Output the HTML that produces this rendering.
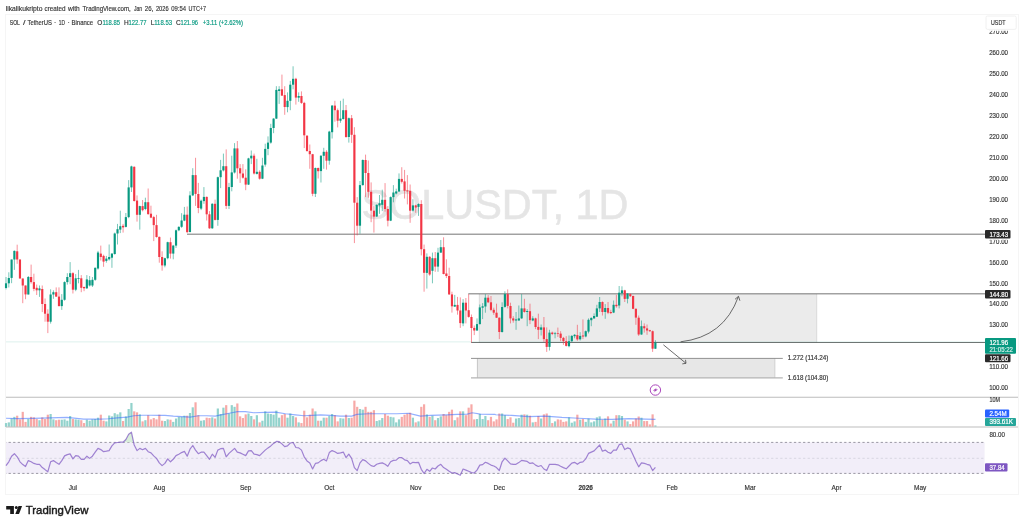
<!DOCTYPE html>
<html><head><meta charset="utf-8"><title>SOLUSDT chart</title>
<style>html,body{margin:0;padding:0;background:#fff;overflow:hidden}svg{display:block;will-change:transform}</style></head>
<body>
<svg width="1024" height="526" viewBox="0 0 1024 526" font-family='"Liberation Sans", "DejaVu Sans", sans-serif'>
<rect width="1024" height="526" fill="#fff"/>
<rect x="5.5" y="14.5" width="1013" height="480" fill="#fff" stroke="#f5f5f5" stroke-width="1"/>
<text x="5.7" y="10.5" font-size="7" fill="#363636" text-anchor="start" font-weight="normal" textLength="36.8" lengthAdjust="spacingAndGlyphs" stroke="#363636" stroke-width="0.16">likalikukripto</text>
<text x="44.5" y="10.5" font-size="7" fill="#363636" text-anchor="start" font-weight="normal" textLength="21.0" lengthAdjust="spacingAndGlyphs" stroke="#363636" stroke-width="0.16">created</text>
<text x="68" y="10.5" font-size="7" fill="#363636" text-anchor="start" font-weight="normal" textLength="11.7" lengthAdjust="spacingAndGlyphs" stroke="#363636" stroke-width="0.16">with</text>
<text x="82.6" y="10.5" font-size="7" fill="#363636" text-anchor="start" font-weight="normal" textLength="48.2" lengthAdjust="spacingAndGlyphs" stroke="#363636" stroke-width="0.16">TradingView.com,</text>
<text x="134" y="10.5" font-size="7" fill="#363636" text-anchor="start" font-weight="normal" textLength="8.2" lengthAdjust="spacingAndGlyphs" stroke="#363636" stroke-width="0.16">Jan</text>
<text x="144.8" y="10.5" font-size="7" fill="#363636" text-anchor="start" font-weight="normal" textLength="8.5" lengthAdjust="spacingAndGlyphs" stroke="#363636" stroke-width="0.16">26,</text>
<text x="155.9" y="10.5" font-size="7" fill="#363636" text-anchor="start" font-weight="normal" textLength="12.7" lengthAdjust="spacingAndGlyphs" stroke="#363636" stroke-width="0.16">2026</text>
<text x="171.2" y="10.5" font-size="7" fill="#363636" text-anchor="start" font-weight="normal" textLength="14.8" lengthAdjust="spacingAndGlyphs" stroke="#363636" stroke-width="0.16">09:54</text>
<text x="188.6" y="10.5" font-size="7" fill="#363636" text-anchor="start" font-weight="normal" textLength="17.5" lengthAdjust="spacingAndGlyphs" stroke="#363636" stroke-width="0.16">UTC+7</text>
<text x="361.4" y="219.2" font-size="42.6" fill="#e5e5e5" text-anchor="start" font-weight="normal" textLength="267" lengthAdjust="spacingAndGlyphs" stroke="#e5e5e5" stroke-width="0.55">SOLUSDT, 1D</text>
<rect x="479.3" y="294.2" width="337.4" height="48" fill="#ebebeb"/>
<line x1="816.7" y1="294.2" x2="816.7" y2="342.2" stroke="#c9c9c9" stroke-width="0.6"/>
<line x1="479.3" y1="294.2" x2="479.3" y2="342.2" stroke="#c9c9c9" stroke-width="0.6"/>
<rect x="477.3" y="358.4" width="297.6" height="19.5" fill="#e7e7e7"/>
<line x1="477.4" y1="358.4" x2="477.4" y2="377.9" stroke="#b4b4b4" stroke-width="0.7"/>
<line x1="774.9" y1="358.4" x2="774.9" y2="377.9" stroke="#c4c4c4" stroke-width="0.7"/>
<line x1="187" y1="234.18" x2="985" y2="234.18" stroke="#161616" stroke-width="0.6"/>
<line x1="468.3" y1="293.84" x2="985" y2="293.84" stroke="#161616" stroke-width="0.6"/>
<line x1="471.2" y1="342.5" x2="985" y2="342.5" stroke="#161616" stroke-width="0.6"/>
<line x1="6" y1="341.9" x2="985" y2="341.9" stroke="#089981" stroke-width="0.5" stroke-dasharray="0.5 0.5" opacity="0.55"/>
<line x1="471" y1="358.4" x2="782.8" y2="358.4" stroke="#868686" stroke-width="0.9"/>
<line x1="471" y1="377.95" x2="782.8" y2="377.95" stroke="#b4b4b4" stroke-width="1.3"/>
<text x="787.8" y="360.3" font-size="6.5" fill="#363636" text-anchor="start" font-weight="normal" textLength="40.5" lengthAdjust="spacingAndGlyphs" stroke="#363636" stroke-width="0.16">1.272 (114.24)</text>
<text x="787.8" y="379.8" font-size="6.5" fill="#363636" text-anchor="start" font-weight="normal" textLength="40.5" lengthAdjust="spacingAndGlyphs" stroke="#363636" stroke-width="0.16">1.618 (104.80)</text>
<path d="M680.6 341.8 Q 723.9 337 738.4 296.6" fill="none" stroke="#484848" stroke-width="0.8"/>
<path d="M735.0 299.3 L738.5 296.3 L739.9 300.7" fill="none" stroke="#484848" stroke-width="0.8"/>
<path d="M663.4 344.8 L686 363.3" fill="none" stroke="#484848" stroke-width="0.8"/>
<path d="M682.3 363.9 L686 363.3 L685.5 359.8" fill="none" stroke="#484848" stroke-width="0.8"/>
<line x1="6.03" y1="277.0" x2="6.03" y2="289.4" stroke="#089981" stroke-width="0.55"/>
<rect x="4.95" y="283.3" width="2.16" height="4.7" fill="#089981"/>
<line x1="8.82" y1="272.3" x2="8.82" y2="287.5" stroke="#089981" stroke-width="0.55"/>
<rect x="7.74" y="278.0" width="2.16" height="5.3" fill="#089981"/>
<line x1="11.60" y1="259.5" x2="11.60" y2="283.2" stroke="#089981" stroke-width="0.55"/>
<rect x="10.52" y="259.5" width="2.16" height="18.4" fill="#089981"/>
<line x1="14.39" y1="250.4" x2="14.39" y2="269.9" stroke="#089981" stroke-width="0.55"/>
<rect x="13.31" y="250.9" width="2.16" height="8.6" fill="#089981"/>
<line x1="17.18" y1="244.7" x2="17.18" y2="263.8" stroke="#f23645" stroke-width="0.55"/>
<rect x="16.10" y="251.3" width="2.16" height="8.2" fill="#f23645"/>
<line x1="19.96" y1="259.5" x2="19.96" y2="278.5" stroke="#f23645" stroke-width="0.55"/>
<rect x="18.88" y="259.5" width="2.16" height="19.0" fill="#f23645"/>
<line x1="22.75" y1="278.5" x2="22.75" y2="303.2" stroke="#f23645" stroke-width="0.55"/>
<rect x="21.67" y="278.5" width="2.16" height="7.0" fill="#f23645"/>
<line x1="25.54" y1="285.5" x2="25.54" y2="299.2" stroke="#f23645" stroke-width="0.55"/>
<rect x="24.46" y="285.5" width="2.16" height="8.9" fill="#f23645"/>
<line x1="28.33" y1="276.0" x2="28.33" y2="294.5" stroke="#089981" stroke-width="0.55"/>
<rect x="27.25" y="277.0" width="2.16" height="17.5" fill="#089981"/>
<line x1="31.11" y1="264.6" x2="31.11" y2="283.6" stroke="#f23645" stroke-width="0.55"/>
<rect x="30.03" y="277.0" width="2.16" height="5.1" fill="#f23645"/>
<line x1="33.90" y1="273.7" x2="33.90" y2="291.2" stroke="#f23645" stroke-width="0.55"/>
<rect x="32.82" y="282.1" width="2.16" height="6.8" fill="#f23645"/>
<line x1="36.69" y1="284.6" x2="36.69" y2="295.0" stroke="#f23645" stroke-width="0.55"/>
<rect x="35.61" y="287.8" width="2.16" height="2.5" fill="#f23645"/>
<line x1="39.47" y1="285.5" x2="39.47" y2="296.9" stroke="#089981" stroke-width="0.55"/>
<rect x="38.39" y="288.4" width="2.16" height="1.9" fill="#089981"/>
<line x1="42.26" y1="285.5" x2="42.26" y2="312.1" stroke="#f23645" stroke-width="0.55"/>
<rect x="41.18" y="289.0" width="2.16" height="15.0" fill="#f23645"/>
<line x1="45.05" y1="298.5" x2="45.05" y2="321.7" stroke="#f23645" stroke-width="0.55"/>
<rect x="43.97" y="304.0" width="2.16" height="9.7" fill="#f23645"/>
<line x1="47.83" y1="309.3" x2="47.83" y2="333.1" stroke="#f23645" stroke-width="0.55"/>
<rect x="46.75" y="313.7" width="2.16" height="8.0" fill="#f23645"/>
<line x1="50.62" y1="289.3" x2="50.62" y2="323.6" stroke="#089981" stroke-width="0.55"/>
<rect x="49.54" y="294.5" width="2.16" height="27.2" fill="#089981"/>
<line x1="53.41" y1="290.3" x2="53.41" y2="298.8" stroke="#089981" stroke-width="0.55"/>
<rect x="52.33" y="292.2" width="2.16" height="2.3" fill="#089981"/>
<line x1="56.20" y1="287.4" x2="56.20" y2="296.9" stroke="#f23645" stroke-width="0.55"/>
<rect x="55.12" y="292.2" width="2.16" height="4.4" fill="#f23645"/>
<line x1="58.98" y1="287.4" x2="58.98" y2="306.4" stroke="#f23645" stroke-width="0.55"/>
<rect x="57.90" y="296.6" width="2.16" height="9.5" fill="#f23645"/>
<line x1="61.77" y1="294.1" x2="61.77" y2="309.9" stroke="#089981" stroke-width="0.55"/>
<rect x="60.69" y="299.8" width="2.16" height="6.3" fill="#089981"/>
<line x1="64.56" y1="281.3" x2="64.56" y2="300.7" stroke="#089981" stroke-width="0.55"/>
<rect x="63.48" y="282.1" width="2.16" height="17.7" fill="#089981"/>
<line x1="67.34" y1="273.2" x2="67.34" y2="284.6" stroke="#089981" stroke-width="0.55"/>
<rect x="66.26" y="277.0" width="2.16" height="5.1" fill="#089981"/>
<line x1="70.13" y1="262.1" x2="70.13" y2="284.2" stroke="#089981" stroke-width="0.55"/>
<rect x="69.05" y="273.2" width="2.16" height="3.8" fill="#089981"/>
<line x1="72.92" y1="272.2" x2="72.92" y2="293.5" stroke="#f23645" stroke-width="0.55"/>
<rect x="71.84" y="273.2" width="2.16" height="16.5" fill="#f23645"/>
<line x1="75.70" y1="274.1" x2="75.70" y2="291.2" stroke="#089981" stroke-width="0.55"/>
<rect x="74.62" y="278.3" width="2.16" height="11.4" fill="#089981"/>
<line x1="78.49" y1="269.9" x2="78.49" y2="283.3" stroke="#089981" stroke-width="0.55"/>
<rect x="77.41" y="278.0" width="2.16" height="0.8" fill="#089981"/>
<line x1="81.28" y1="275.1" x2="81.28" y2="292.2" stroke="#f23645" stroke-width="0.55"/>
<rect x="80.20" y="278.3" width="2.16" height="9.5" fill="#f23645"/>
<line x1="84.06" y1="286.5" x2="84.06" y2="291.2" stroke="#f23645" stroke-width="0.55"/>
<rect x="82.98" y="287.0" width="2.16" height="1.3" fill="#f23645"/>
<line x1="86.85" y1="275.1" x2="86.85" y2="289.0" stroke="#089981" stroke-width="0.55"/>
<rect x="85.77" y="279.4" width="2.16" height="8.9" fill="#089981"/>
<line x1="89.64" y1="276.0" x2="89.64" y2="286.5" stroke="#089981" stroke-width="0.55"/>
<rect x="88.56" y="280.2" width="2.16" height="5.3" fill="#089981"/>
<line x1="92.43" y1="277.0" x2="92.43" y2="287.0" stroke="#089981" stroke-width="0.55"/>
<rect x="91.35" y="279.8" width="2.16" height="5.7" fill="#089981"/>
<line x1="95.21" y1="267.5" x2="95.21" y2="280.8" stroke="#089981" stroke-width="0.55"/>
<rect x="94.13" y="267.8" width="2.16" height="12.0" fill="#089981"/>
<line x1="98.00" y1="250.9" x2="98.00" y2="269.6" stroke="#089981" stroke-width="0.55"/>
<rect x="96.92" y="252.5" width="2.16" height="16.0" fill="#089981"/>
<line x1="100.79" y1="245.6" x2="100.79" y2="260.5" stroke="#f23645" stroke-width="0.55"/>
<rect x="99.71" y="253.6" width="2.16" height="3.4" fill="#f23645"/>
<line x1="103.57" y1="254.7" x2="103.57" y2="266.8" stroke="#f23645" stroke-width="0.55"/>
<rect x="102.49" y="255.9" width="2.16" height="5.7" fill="#f23645"/>
<line x1="106.36" y1="255.9" x2="106.36" y2="262.7" stroke="#089981" stroke-width="0.55"/>
<rect x="105.28" y="258.6" width="2.16" height="2.3" fill="#089981"/>
<line x1="109.15" y1="244.5" x2="109.15" y2="260.5" stroke="#089981" stroke-width="0.55"/>
<rect x="108.07" y="257.0" width="2.16" height="2.3" fill="#089981"/>
<line x1="111.93" y1="253.2" x2="111.93" y2="267.8" stroke="#089981" stroke-width="0.55"/>
<rect x="110.85" y="253.6" width="2.16" height="4.1" fill="#089981"/>
<line x1="114.72" y1="232.6" x2="114.72" y2="254.7" stroke="#089981" stroke-width="0.55"/>
<rect x="113.64" y="233.5" width="2.16" height="20.5" fill="#089981"/>
<line x1="117.51" y1="223.9" x2="117.51" y2="244.5" stroke="#089981" stroke-width="0.55"/>
<rect x="116.43" y="229.2" width="2.16" height="4.3" fill="#089981"/>
<line x1="120.30" y1="210.7" x2="120.30" y2="233.1" stroke="#089981" stroke-width="0.55"/>
<rect x="119.22" y="226.2" width="2.16" height="3.4" fill="#089981"/>
<line x1="123.08" y1="223.9" x2="123.08" y2="232.6" stroke="#f23645" stroke-width="0.55"/>
<rect x="122.00" y="225.8" width="2.16" height="1.6" fill="#f23645"/>
<line x1="125.87" y1="213.0" x2="125.87" y2="227.4" stroke="#089981" stroke-width="0.55"/>
<rect x="124.79" y="217.1" width="2.16" height="9.8" fill="#089981"/>
<line x1="128.66" y1="180.1" x2="128.66" y2="218.2" stroke="#089981" stroke-width="0.55"/>
<rect x="127.58" y="187.4" width="2.16" height="29.7" fill="#089981"/>
<line x1="131.44" y1="165.7" x2="131.44" y2="192.0" stroke="#089981" stroke-width="0.55"/>
<rect x="130.36" y="166.4" width="2.16" height="21.0" fill="#089981"/>
<line x1="134.23" y1="166.4" x2="134.23" y2="201.6" stroke="#f23645" stroke-width="0.55"/>
<rect x="133.15" y="166.8" width="2.16" height="34.2" fill="#f23645"/>
<line x1="137.02" y1="195.4" x2="137.02" y2="221.6" stroke="#f23645" stroke-width="0.55"/>
<rect x="135.94" y="200.6" width="2.16" height="14.2" fill="#f23645"/>
<line x1="139.80" y1="205.7" x2="139.80" y2="229.6" stroke="#089981" stroke-width="0.55"/>
<rect x="138.72" y="206.1" width="2.16" height="8.7" fill="#089981"/>
<line x1="142.59" y1="200.0" x2="142.59" y2="211.4" stroke="#f23645" stroke-width="0.55"/>
<rect x="141.51" y="206.1" width="2.16" height="4.1" fill="#f23645"/>
<line x1="145.38" y1="197.7" x2="145.38" y2="210.2" stroke="#089981" stroke-width="0.55"/>
<rect x="144.30" y="202.2" width="2.16" height="6.8" fill="#089981"/>
<line x1="148.17" y1="188.5" x2="148.17" y2="214.8" stroke="#f23645" stroke-width="0.55"/>
<rect x="147.09" y="202.2" width="2.16" height="11.9" fill="#f23645"/>
<line x1="150.95" y1="205.7" x2="150.95" y2="218.2" stroke="#f23645" stroke-width="0.55"/>
<rect x="149.87" y="213.7" width="2.16" height="3.9" fill="#f23645"/>
<line x1="153.74" y1="215.9" x2="153.74" y2="241.1" stroke="#f23645" stroke-width="0.55"/>
<rect x="152.66" y="217.1" width="2.16" height="8.0" fill="#f23645"/>
<line x1="156.53" y1="214.8" x2="156.53" y2="237.6" stroke="#f23645" stroke-width="0.55"/>
<rect x="155.45" y="225.1" width="2.16" height="11.9" fill="#f23645"/>
<line x1="159.31" y1="236.5" x2="159.31" y2="262.7" stroke="#f23645" stroke-width="0.55"/>
<rect x="158.23" y="236.9" width="2.16" height="20.1" fill="#f23645"/>
<line x1="162.10" y1="251.3" x2="162.10" y2="270.7" stroke="#f23645" stroke-width="0.55"/>
<rect x="161.02" y="257.0" width="2.16" height="8.4" fill="#f23645"/>
<line x1="164.89" y1="257.7" x2="164.89" y2="267.3" stroke="#089981" stroke-width="0.55"/>
<rect x="163.81" y="258.2" width="2.16" height="7.3" fill="#089981"/>
<line x1="167.68" y1="241.7" x2="167.68" y2="259.3" stroke="#089981" stroke-width="0.55"/>
<rect x="166.59" y="242.2" width="2.16" height="16.0" fill="#089981"/>
<line x1="170.46" y1="237.6" x2="170.46" y2="258.6" stroke="#f23645" stroke-width="0.55"/>
<rect x="169.38" y="242.2" width="2.16" height="11.4" fill="#f23645"/>
<line x1="173.25" y1="244.9" x2="173.25" y2="259.3" stroke="#089981" stroke-width="0.55"/>
<rect x="172.17" y="245.6" width="2.16" height="8.0" fill="#089981"/>
<line x1="176.04" y1="229.6" x2="176.04" y2="247.9" stroke="#089981" stroke-width="0.55"/>
<rect x="174.96" y="230.3" width="2.16" height="15.3" fill="#089981"/>
<line x1="178.82" y1="226.2" x2="178.82" y2="231.2" stroke="#089981" stroke-width="0.55"/>
<rect x="177.74" y="226.9" width="2.16" height="3.4" fill="#089981"/>
<line x1="181.61" y1="213.2" x2="181.61" y2="227.9" stroke="#089981" stroke-width="0.55"/>
<rect x="180.53" y="220.5" width="2.16" height="6.3" fill="#089981"/>
<line x1="184.40" y1="206.9" x2="184.40" y2="221.2" stroke="#089981" stroke-width="0.55"/>
<rect x="183.32" y="214.7" width="2.16" height="5.9" fill="#089981"/>
<line x1="187.18" y1="206.5" x2="187.18" y2="233.1" stroke="#f23645" stroke-width="0.55"/>
<rect x="186.10" y="214.7" width="2.16" height="17.4" fill="#f23645"/>
<line x1="189.97" y1="191.3" x2="189.97" y2="232.5" stroke="#089981" stroke-width="0.55"/>
<rect x="188.89" y="195.4" width="2.16" height="36.6" fill="#089981"/>
<line x1="192.76" y1="168.2" x2="192.76" y2="196.1" stroke="#089981" stroke-width="0.55"/>
<rect x="191.68" y="175.1" width="2.16" height="20.3" fill="#089981"/>
<line x1="195.55" y1="157.8" x2="195.55" y2="205.9" stroke="#f23645" stroke-width="0.55"/>
<rect x="194.47" y="175.1" width="2.16" height="18.8" fill="#f23645"/>
<line x1="198.33" y1="182.9" x2="198.33" y2="213.2" stroke="#f23645" stroke-width="0.55"/>
<rect x="197.25" y="194.0" width="2.16" height="14.0" fill="#f23645"/>
<line x1="201.12" y1="199.6" x2="201.12" y2="210.1" stroke="#089981" stroke-width="0.55"/>
<rect x="200.04" y="200.7" width="2.16" height="7.9" fill="#089981"/>
<line x1="203.91" y1="187.1" x2="203.91" y2="203.8" stroke="#089981" stroke-width="0.55"/>
<rect x="202.83" y="196.9" width="2.16" height="4.2" fill="#089981"/>
<line x1="206.69" y1="196.5" x2="206.69" y2="220.5" stroke="#f23645" stroke-width="0.55"/>
<rect x="205.61" y="196.9" width="2.16" height="17.4" fill="#f23645"/>
<line x1="209.48" y1="211.1" x2="209.48" y2="228.9" stroke="#f23645" stroke-width="0.55"/>
<rect x="208.40" y="214.3" width="2.16" height="14.0" fill="#f23645"/>
<line x1="212.27" y1="203.2" x2="212.27" y2="228.9" stroke="#089981" stroke-width="0.55"/>
<rect x="211.19" y="203.8" width="2.16" height="24.5" fill="#089981"/>
<line x1="215.05" y1="199.6" x2="215.05" y2="220.5" stroke="#f23645" stroke-width="0.55"/>
<rect x="213.97" y="203.8" width="2.16" height="16.1" fill="#f23645"/>
<line x1="217.84" y1="176.6" x2="217.84" y2="225.8" stroke="#089981" stroke-width="0.55"/>
<rect x="216.76" y="177.2" width="2.16" height="42.7" fill="#089981"/>
<line x1="220.63" y1="159.9" x2="220.63" y2="188.1" stroke="#089981" stroke-width="0.55"/>
<rect x="219.55" y="170.3" width="2.16" height="6.9" fill="#089981"/>
<line x1="223.41" y1="153.6" x2="223.41" y2="171.4" stroke="#089981" stroke-width="0.55"/>
<rect x="222.33" y="166.2" width="2.16" height="4.2" fill="#089981"/>
<line x1="226.20" y1="149.4" x2="226.20" y2="209.0" stroke="#f23645" stroke-width="0.55"/>
<rect x="225.12" y="166.2" width="2.16" height="39.7" fill="#f23645"/>
<line x1="228.99" y1="182.9" x2="228.99" y2="209.0" stroke="#089981" stroke-width="0.55"/>
<rect x="227.91" y="187.1" width="2.16" height="18.8" fill="#089981"/>
<line x1="231.78" y1="155.7" x2="231.78" y2="191.3" stroke="#089981" stroke-width="0.55"/>
<rect x="230.70" y="172.4" width="2.16" height="14.6" fill="#089981"/>
<line x1="234.56" y1="143.1" x2="234.56" y2="173.5" stroke="#089981" stroke-width="0.55"/>
<rect x="233.48" y="148.4" width="2.16" height="24.1" fill="#089981"/>
<line x1="237.35" y1="141.0" x2="237.35" y2="178.7" stroke="#f23645" stroke-width="0.55"/>
<rect x="236.27" y="148.4" width="2.16" height="19.9" fill="#f23645"/>
<line x1="240.14" y1="164.1" x2="240.14" y2="182.9" stroke="#f23645" stroke-width="0.55"/>
<rect x="239.06" y="168.2" width="2.16" height="5.2" fill="#f23645"/>
<line x1="242.92" y1="164.1" x2="242.92" y2="178.7" stroke="#f23645" stroke-width="0.55"/>
<rect x="241.84" y="173.5" width="2.16" height="4.2" fill="#f23645"/>
<line x1="245.71" y1="169.3" x2="245.71" y2="190.2" stroke="#f23645" stroke-width="0.55"/>
<rect x="244.63" y="177.7" width="2.16" height="6.9" fill="#f23645"/>
<line x1="248.50" y1="157.8" x2="248.50" y2="185.0" stroke="#089981" stroke-width="0.55"/>
<rect x="247.42" y="158.4" width="2.16" height="26.2" fill="#089981"/>
<line x1="251.28" y1="150.5" x2="251.28" y2="164.1" stroke="#089981" stroke-width="0.55"/>
<rect x="250.20" y="155.7" width="2.16" height="2.7" fill="#089981"/>
<line x1="254.07" y1="153.6" x2="254.07" y2="174.5" stroke="#f23645" stroke-width="0.55"/>
<rect x="252.99" y="155.7" width="2.16" height="17.8" fill="#f23645"/>
<line x1="256.86" y1="158.8" x2="256.86" y2="174.5" stroke="#089981" stroke-width="0.55"/>
<rect x="255.78" y="171.8" width="2.16" height="2.1" fill="#089981"/>
<line x1="259.65" y1="170.3" x2="259.65" y2="179.7" stroke="#f23645" stroke-width="0.55"/>
<rect x="258.57" y="171.8" width="2.16" height="6.9" fill="#f23645"/>
<line x1="262.43" y1="157.8" x2="262.43" y2="179.1" stroke="#089981" stroke-width="0.55"/>
<rect x="261.35" y="165.5" width="2.16" height="13.2" fill="#089981"/>
<line x1="265.22" y1="143.7" x2="265.22" y2="166.7" stroke="#089981" stroke-width="0.55"/>
<rect x="264.14" y="148.9" width="2.16" height="15.7" fill="#089981"/>
<line x1="268.01" y1="136.4" x2="268.01" y2="155.2" stroke="#089981" stroke-width="0.55"/>
<rect x="266.93" y="142.6" width="2.16" height="6.3" fill="#089981"/>
<line x1="270.79" y1="123.8" x2="270.79" y2="143.7" stroke="#089981" stroke-width="0.55"/>
<rect x="269.71" y="128.0" width="2.16" height="14.6" fill="#089981"/>
<line x1="273.58" y1="118.2" x2="273.58" y2="133.2" stroke="#089981" stroke-width="0.55"/>
<rect x="272.50" y="118.6" width="2.16" height="9.4" fill="#089981"/>
<line x1="276.37" y1="86.2" x2="276.37" y2="119.0" stroke="#089981" stroke-width="0.55"/>
<rect x="275.29" y="89.9" width="2.16" height="28.7" fill="#089981"/>
<line x1="279.15" y1="86.2" x2="279.15" y2="103.9" stroke="#089981" stroke-width="0.55"/>
<rect x="278.07" y="89.3" width="2.16" height="1.7" fill="#089981"/>
<line x1="281.94" y1="74.6" x2="281.94" y2="96.0" stroke="#f23645" stroke-width="0.55"/>
<rect x="280.86" y="89.3" width="2.16" height="6.3" fill="#f23645"/>
<line x1="284.73" y1="86.2" x2="284.73" y2="114.8" stroke="#f23645" stroke-width="0.55"/>
<rect x="283.65" y="95.1" width="2.16" height="11.9" fill="#f23645"/>
<line x1="287.52" y1="92.4" x2="287.52" y2="112.3" stroke="#089981" stroke-width="0.55"/>
<rect x="286.44" y="100.8" width="2.16" height="6.3" fill="#089981"/>
<line x1="290.30" y1="80.9" x2="290.30" y2="110.2" stroke="#089981" stroke-width="0.55"/>
<rect x="289.22" y="84.7" width="2.16" height="16.1" fill="#089981"/>
<line x1="293.09" y1="66.3" x2="293.09" y2="89.3" stroke="#089981" stroke-width="0.55"/>
<rect x="292.01" y="78.8" width="2.16" height="5.9" fill="#089981"/>
<line x1="295.88" y1="77.8" x2="295.88" y2="104.6" stroke="#f23645" stroke-width="0.55"/>
<rect x="294.80" y="78.8" width="2.16" height="18.8" fill="#f23645"/>
<line x1="298.66" y1="92.4" x2="298.66" y2="101.8" stroke="#089981" stroke-width="0.55"/>
<rect x="297.58" y="96.0" width="2.16" height="1.7" fill="#089981"/>
<line x1="301.45" y1="91.4" x2="301.45" y2="103.9" stroke="#f23645" stroke-width="0.55"/>
<rect x="300.37" y="96.0" width="2.16" height="6.9" fill="#f23645"/>
<line x1="304.24" y1="101.8" x2="304.24" y2="148.1" stroke="#f23645" stroke-width="0.55"/>
<rect x="303.16" y="102.9" width="2.16" height="32.4" fill="#f23645"/>
<line x1="307.02" y1="135.2" x2="307.02" y2="151.8" stroke="#f23645" stroke-width="0.55"/>
<rect x="305.94" y="135.7" width="2.16" height="15.3" fill="#f23645"/>
<line x1="309.81" y1="144.5" x2="309.81" y2="168.8" stroke="#f23645" stroke-width="0.55"/>
<rect x="308.73" y="151.0" width="2.16" height="3.2" fill="#f23645"/>
<line x1="312.60" y1="153.9" x2="312.60" y2="196.2" stroke="#f23645" stroke-width="0.55"/>
<rect x="311.52" y="154.2" width="2.16" height="39.6" fill="#f23645"/>
<line x1="315.39" y1="167.5" x2="315.39" y2="197.0" stroke="#089981" stroke-width="0.55"/>
<rect x="314.31" y="168.0" width="2.16" height="25.8" fill="#089981"/>
<line x1="318.17" y1="167.5" x2="318.17" y2="178.5" stroke="#f23645" stroke-width="0.55"/>
<rect x="317.09" y="168.0" width="2.16" height="3.2" fill="#f23645"/>
<line x1="320.96" y1="155.0" x2="320.96" y2="182.5" stroke="#089981" stroke-width="0.55"/>
<rect x="319.88" y="155.8" width="2.16" height="15.3" fill="#089981"/>
<line x1="323.75" y1="147.8" x2="323.75" y2="168.8" stroke="#089981" stroke-width="0.55"/>
<rect x="322.67" y="151.8" width="2.16" height="4.0" fill="#089981"/>
<line x1="326.53" y1="150.2" x2="326.53" y2="169.6" stroke="#f23645" stroke-width="0.55"/>
<rect x="325.45" y="151.8" width="2.16" height="8.9" fill="#f23645"/>
<line x1="329.32" y1="130.8" x2="329.32" y2="164.7" stroke="#089981" stroke-width="0.55"/>
<rect x="328.24" y="131.6" width="2.16" height="29.1" fill="#089981"/>
<line x1="332.11" y1="105.0" x2="332.11" y2="138.5" stroke="#089981" stroke-width="0.55"/>
<rect x="331.03" y="105.6" width="2.16" height="26.6" fill="#089981"/>
<line x1="334.89" y1="100.8" x2="334.89" y2="121.7" stroke="#f23645" stroke-width="0.55"/>
<rect x="333.81" y="105.6" width="2.16" height="4.6" fill="#f23645"/>
<line x1="337.68" y1="108.5" x2="337.68" y2="127.4" stroke="#f23645" stroke-width="0.55"/>
<rect x="336.60" y="110.2" width="2.16" height="10.5" fill="#f23645"/>
<line x1="340.47" y1="100.8" x2="340.47" y2="122.8" stroke="#089981" stroke-width="0.55"/>
<rect x="339.39" y="118.6" width="2.16" height="2.1" fill="#089981"/>
<line x1="343.26" y1="98.7" x2="343.26" y2="119.6" stroke="#089981" stroke-width="0.55"/>
<rect x="342.18" y="110.2" width="2.16" height="8.8" fill="#089981"/>
<line x1="346.04" y1="105.0" x2="346.04" y2="137.8" stroke="#f23645" stroke-width="0.55"/>
<rect x="344.96" y="110.2" width="2.16" height="26.8" fill="#f23645"/>
<line x1="348.83" y1="117.5" x2="348.83" y2="142.6" stroke="#089981" stroke-width="0.55"/>
<rect x="347.75" y="118.2" width="2.16" height="18.8" fill="#089981"/>
<line x1="351.62" y1="115.0" x2="351.62" y2="142.9" stroke="#f23645" stroke-width="0.55"/>
<rect x="350.54" y="118.2" width="2.16" height="16.6" fill="#f23645"/>
<line x1="354.40" y1="127.2" x2="354.40" y2="243.1" stroke="#f23645" stroke-width="0.55"/>
<rect x="353.32" y="134.8" width="2.16" height="67.9" fill="#f23645"/>
<line x1="357.19" y1="197.1" x2="357.19" y2="235.4" stroke="#f23645" stroke-width="0.55"/>
<rect x="356.11" y="202.7" width="2.16" height="23.0" fill="#f23645"/>
<line x1="359.98" y1="181.0" x2="359.98" y2="233.7" stroke="#089981" stroke-width="0.55"/>
<rect x="358.90" y="185.1" width="2.16" height="40.6" fill="#089981"/>
<line x1="362.76" y1="159.4" x2="362.76" y2="185.6" stroke="#089981" stroke-width="0.55"/>
<rect x="361.69" y="160.0" width="2.16" height="25.1" fill="#089981"/>
<line x1="365.55" y1="154.6" x2="365.55" y2="197.1" stroke="#f23645" stroke-width="0.55"/>
<rect x="364.47" y="160.0" width="2.16" height="13.0" fill="#f23645"/>
<line x1="368.34" y1="160.5" x2="368.34" y2="197.7" stroke="#f23645" stroke-width="0.55"/>
<rect x="367.26" y="173.0" width="2.16" height="18.8" fill="#f23645"/>
<line x1="371.13" y1="182.4" x2="371.13" y2="222.2" stroke="#f23645" stroke-width="0.55"/>
<rect x="370.05" y="191.8" width="2.16" height="18.8" fill="#f23645"/>
<line x1="373.91" y1="206.1" x2="373.91" y2="232.6" stroke="#f23645" stroke-width="0.55"/>
<rect x="372.83" y="210.7" width="2.16" height="5.9" fill="#f23645"/>
<line x1="376.70" y1="204.4" x2="376.70" y2="216.9" stroke="#089981" stroke-width="0.55"/>
<rect x="375.62" y="204.8" width="2.16" height="11.7" fill="#089981"/>
<line x1="379.49" y1="195.0" x2="379.49" y2="213.8" stroke="#089981" stroke-width="0.55"/>
<rect x="378.41" y="203.3" width="2.16" height="2.1" fill="#089981"/>
<line x1="382.27" y1="189.7" x2="382.27" y2="211.1" stroke="#089981" stroke-width="0.55"/>
<rect x="381.19" y="199.8" width="2.16" height="5.0" fill="#089981"/>
<line x1="385.06" y1="183.1" x2="385.06" y2="211.7" stroke="#f23645" stroke-width="0.55"/>
<rect x="383.98" y="199.8" width="2.16" height="9.2" fill="#f23645"/>
<line x1="387.85" y1="206.1" x2="387.85" y2="226.4" stroke="#f23645" stroke-width="0.55"/>
<rect x="386.77" y="209.0" width="2.16" height="11.7" fill="#f23645"/>
<line x1="390.63" y1="196.4" x2="390.63" y2="221.1" stroke="#089981" stroke-width="0.55"/>
<rect x="389.56" y="197.1" width="2.16" height="23.6" fill="#089981"/>
<line x1="393.42" y1="185.1" x2="393.42" y2="202.3" stroke="#089981" stroke-width="0.55"/>
<rect x="392.34" y="192.5" width="2.16" height="4.6" fill="#089981"/>
<line x1="396.21" y1="188.7" x2="396.21" y2="194.4" stroke="#089981" stroke-width="0.55"/>
<rect x="395.13" y="191.4" width="2.16" height="2.1" fill="#089981"/>
<line x1="399.00" y1="173.4" x2="399.00" y2="191.8" stroke="#089981" stroke-width="0.55"/>
<rect x="397.92" y="178.9" width="2.16" height="12.6" fill="#089981"/>
<line x1="401.78" y1="167.2" x2="401.78" y2="183.5" stroke="#f23645" stroke-width="0.55"/>
<rect x="400.70" y="178.9" width="2.16" height="2.9" fill="#f23645"/>
<line x1="404.57" y1="169.9" x2="404.57" y2="198.5" stroke="#f23645" stroke-width="0.55"/>
<rect x="403.49" y="181.4" width="2.16" height="9.4" fill="#f23645"/>
<line x1="407.36" y1="175.1" x2="407.36" y2="204.4" stroke="#f23645" stroke-width="0.55"/>
<rect x="406.28" y="190.4" width="2.16" height="1.0" fill="#f23645"/>
<line x1="410.14" y1="184.5" x2="410.14" y2="222.8" stroke="#f23645" stroke-width="0.55"/>
<rect x="409.06" y="190.8" width="2.16" height="19.9" fill="#f23645"/>
<line x1="412.93" y1="199.2" x2="412.93" y2="211.7" stroke="#089981" stroke-width="0.55"/>
<rect x="411.85" y="205.4" width="2.16" height="5.2" fill="#089981"/>
<line x1="415.72" y1="204.8" x2="415.72" y2="212.8" stroke="#f23645" stroke-width="0.55"/>
<rect x="414.64" y="205.4" width="2.16" height="2.1" fill="#f23645"/>
<line x1="418.50" y1="203.3" x2="418.50" y2="215.9" stroke="#089981" stroke-width="0.55"/>
<rect x="417.43" y="204.0" width="2.16" height="2.9" fill="#089981"/>
<line x1="421.29" y1="200.2" x2="421.29" y2="255.4" stroke="#f23645" stroke-width="0.55"/>
<rect x="420.21" y="204.0" width="2.16" height="45.2" fill="#f23645"/>
<line x1="424.08" y1="244.6" x2="424.08" y2="291.7" stroke="#f23645" stroke-width="0.55"/>
<rect x="423.00" y="249.2" width="2.16" height="23.6" fill="#f23645"/>
<line x1="426.87" y1="253.4" x2="426.87" y2="288.6" stroke="#089981" stroke-width="0.55"/>
<rect x="425.79" y="256.8" width="2.16" height="16.1" fill="#089981"/>
<line x1="429.65" y1="256.2" x2="429.65" y2="275.8" stroke="#f23645" stroke-width="0.55"/>
<rect x="428.57" y="256.8" width="2.16" height="17.7" fill="#f23645"/>
<line x1="432.44" y1="252.6" x2="432.44" y2="283.3" stroke="#089981" stroke-width="0.55"/>
<rect x="431.36" y="258.2" width="2.16" height="12.6" fill="#089981"/>
<line x1="435.23" y1="252.0" x2="435.23" y2="271.8" stroke="#f23645" stroke-width="0.55"/>
<rect x="434.15" y="258.2" width="2.16" height="8.4" fill="#f23645"/>
<line x1="438.01" y1="247.8" x2="438.01" y2="271.8" stroke="#089981" stroke-width="0.55"/>
<rect x="436.93" y="252.6" width="2.16" height="14.0" fill="#089981"/>
<line x1="440.80" y1="240.0" x2="440.80" y2="253.0" stroke="#089981" stroke-width="0.55"/>
<rect x="439.72" y="247.2" width="2.16" height="5.4" fill="#089981"/>
<line x1="443.59" y1="237.3" x2="443.59" y2="274.4" stroke="#f23645" stroke-width="0.55"/>
<rect x="442.51" y="247.2" width="2.16" height="26.8" fill="#f23645"/>
<line x1="446.38" y1="259.3" x2="446.38" y2="278.1" stroke="#f23645" stroke-width="0.55"/>
<rect x="445.30" y="273.5" width="2.16" height="2.5" fill="#f23645"/>
<line x1="449.16" y1="267.7" x2="449.16" y2="294.9" stroke="#f23645" stroke-width="0.55"/>
<rect x="448.08" y="276.0" width="2.16" height="18.4" fill="#f23645"/>
<line x1="451.95" y1="291.7" x2="451.95" y2="312.6" stroke="#f23645" stroke-width="0.55"/>
<rect x="450.87" y="294.4" width="2.16" height="11.9" fill="#f23645"/>
<line x1="454.74" y1="294.9" x2="454.74" y2="307.0" stroke="#089981" stroke-width="0.55"/>
<rect x="453.66" y="304.9" width="2.16" height="1.7" fill="#089981"/>
<line x1="457.52" y1="296.9" x2="457.52" y2="314.7" stroke="#f23645" stroke-width="0.55"/>
<rect x="456.44" y="304.9" width="2.16" height="5.6" fill="#f23645"/>
<line x1="460.31" y1="297.4" x2="460.31" y2="327.9" stroke="#f23645" stroke-width="0.55"/>
<rect x="459.23" y="310.5" width="2.16" height="12.6" fill="#f23645"/>
<line x1="463.10" y1="299.1" x2="463.10" y2="326.2" stroke="#089981" stroke-width="0.55"/>
<rect x="462.02" y="302.7" width="2.16" height="20.7" fill="#089981"/>
<line x1="465.88" y1="298.0" x2="465.88" y2="323.4" stroke="#f23645" stroke-width="0.55"/>
<rect x="464.80" y="302.7" width="2.16" height="7.8" fill="#f23645"/>
<line x1="468.67" y1="294.1" x2="468.67" y2="317.7" stroke="#f23645" stroke-width="0.55"/>
<rect x="467.59" y="310.2" width="2.16" height="6.7" fill="#f23645"/>
<line x1="471.46" y1="314.5" x2="471.46" y2="342.6" stroke="#f23645" stroke-width="0.55"/>
<rect x="470.38" y="317.0" width="2.16" height="11.0" fill="#f23645"/>
<line x1="474.25" y1="325.5" x2="474.25" y2="335.1" stroke="#f23645" stroke-width="0.55"/>
<rect x="473.17" y="327.9" width="2.16" height="2.6" fill="#f23645"/>
<line x1="477.03" y1="318.4" x2="477.03" y2="330.8" stroke="#089981" stroke-width="0.55"/>
<rect x="475.95" y="324.1" width="2.16" height="6.4" fill="#089981"/>
<line x1="479.82" y1="304.5" x2="479.82" y2="324.5" stroke="#089981" stroke-width="0.55"/>
<rect x="478.74" y="307.4" width="2.16" height="16.7" fill="#089981"/>
<line x1="482.61" y1="303.1" x2="482.61" y2="319.1" stroke="#089981" stroke-width="0.55"/>
<rect x="481.53" y="306.3" width="2.16" height="1.4" fill="#089981"/>
<line x1="485.39" y1="294.1" x2="485.39" y2="312.7" stroke="#089981" stroke-width="0.55"/>
<rect x="484.31" y="297.7" width="2.16" height="8.8" fill="#089981"/>
<line x1="488.18" y1="295.1" x2="488.18" y2="303.1" stroke="#f23645" stroke-width="0.55"/>
<rect x="487.10" y="297.7" width="2.16" height="4.6" fill="#f23645"/>
<line x1="490.97" y1="296.0" x2="490.97" y2="311.2" stroke="#f23645" stroke-width="0.55"/>
<rect x="489.89" y="302.3" width="2.16" height="7.6" fill="#f23645"/>
<line x1="493.75" y1="307.7" x2="493.75" y2="314.8" stroke="#f23645" stroke-width="0.55"/>
<rect x="492.67" y="309.8" width="2.16" height="2.9" fill="#f23645"/>
<line x1="496.54" y1="303.7" x2="496.54" y2="317.9" stroke="#f23645" stroke-width="0.55"/>
<rect x="495.46" y="312.7" width="2.16" height="5.0" fill="#f23645"/>
<line x1="499.33" y1="317.4" x2="499.33" y2="339.1" stroke="#f23645" stroke-width="0.55"/>
<rect x="498.25" y="317.7" width="2.16" height="14.3" fill="#f23645"/>
<line x1="502.12" y1="302.3" x2="502.12" y2="332.6" stroke="#089981" stroke-width="0.55"/>
<rect x="501.04" y="307.0" width="2.16" height="25.0" fill="#089981"/>
<line x1="504.90" y1="291.3" x2="504.90" y2="307.7" stroke="#089981" stroke-width="0.55"/>
<rect x="503.82" y="294.1" width="2.16" height="12.8" fill="#089981"/>
<line x1="507.69" y1="289.4" x2="507.69" y2="308.4" stroke="#f23645" stroke-width="0.55"/>
<rect x="506.61" y="294.1" width="2.16" height="11.8" fill="#f23645"/>
<line x1="510.48" y1="302.7" x2="510.48" y2="323.4" stroke="#f23645" stroke-width="0.55"/>
<rect x="509.40" y="306.0" width="2.16" height="12.4" fill="#f23645"/>
<line x1="513.26" y1="316.2" x2="513.26" y2="322.7" stroke="#f23645" stroke-width="0.55"/>
<rect x="512.18" y="318.4" width="2.16" height="2.1" fill="#f23645"/>
<line x1="516.05" y1="312.0" x2="516.05" y2="329.8" stroke="#089981" stroke-width="0.55"/>
<rect x="514.97" y="319.4" width="2.16" height="1.1" fill="#089981"/>
<line x1="518.84" y1="305.5" x2="518.84" y2="320.8" stroke="#089981" stroke-width="0.55"/>
<rect x="517.76" y="318.4" width="2.16" height="2.1" fill="#089981"/>
<line x1="521.62" y1="294.1" x2="521.62" y2="318.8" stroke="#089981" stroke-width="0.55"/>
<rect x="520.54" y="308.4" width="2.16" height="10.0" fill="#089981"/>
<line x1="524.41" y1="298.8" x2="524.41" y2="312.7" stroke="#f23645" stroke-width="0.55"/>
<rect x="523.33" y="308.4" width="2.16" height="3.6" fill="#f23645"/>
<line x1="527.20" y1="309.1" x2="527.20" y2="326.2" stroke="#089981" stroke-width="0.55"/>
<rect x="526.12" y="311.0" width="2.16" height="1.0" fill="#089981"/>
<line x1="529.99" y1="303.7" x2="529.99" y2="324.1" stroke="#f23645" stroke-width="0.55"/>
<rect x="528.90" y="311.2" width="2.16" height="9.0" fill="#f23645"/>
<line x1="532.77" y1="316.2" x2="532.77" y2="321.2" stroke="#089981" stroke-width="0.55"/>
<rect x="531.69" y="318.4" width="2.16" height="2.1" fill="#089981"/>
<line x1="535.56" y1="317.7" x2="535.56" y2="329.1" stroke="#f23645" stroke-width="0.55"/>
<rect x="534.48" y="318.4" width="2.16" height="8.6" fill="#f23645"/>
<line x1="538.35" y1="313.7" x2="538.35" y2="339.1" stroke="#f23645" stroke-width="0.55"/>
<rect x="537.27" y="326.9" width="2.16" height="2.9" fill="#f23645"/>
<line x1="541.13" y1="324.5" x2="541.13" y2="335.5" stroke="#089981" stroke-width="0.55"/>
<rect x="540.05" y="327.4" width="2.16" height="2.4" fill="#089981"/>
<line x1="543.92" y1="317.0" x2="543.92" y2="341.9" stroke="#f23645" stroke-width="0.55"/>
<rect x="542.84" y="327.4" width="2.16" height="11.7" fill="#f23645"/>
<line x1="546.71" y1="327.4" x2="546.71" y2="351.9" stroke="#f23645" stroke-width="0.55"/>
<rect x="545.63" y="339.1" width="2.16" height="7.8" fill="#f23645"/>
<line x1="549.49" y1="329.8" x2="549.49" y2="350.5" stroke="#089981" stroke-width="0.55"/>
<rect x="548.41" y="332.6" width="2.16" height="14.3" fill="#089981"/>
<line x1="552.28" y1="331.6" x2="552.28" y2="335.1" stroke="#f23645" stroke-width="0.55"/>
<rect x="551.20" y="332.6" width="2.16" height="1.4" fill="#f23645"/>
<line x1="555.07" y1="331.9" x2="555.07" y2="338.3" stroke="#089981" stroke-width="0.55"/>
<rect x="553.99" y="333.4" width="2.16" height="0.7" fill="#089981"/>
<line x1="557.86" y1="327.6" x2="557.86" y2="336.9" stroke="#f23645" stroke-width="0.55"/>
<rect x="556.77" y="333.1" width="2.16" height="0.7" fill="#f23645"/>
<line x1="560.64" y1="331.2" x2="560.64" y2="341.2" stroke="#f23645" stroke-width="0.55"/>
<rect x="559.56" y="333.6" width="2.16" height="4.3" fill="#f23645"/>
<line x1="563.43" y1="336.9" x2="563.43" y2="344.8" stroke="#f23645" stroke-width="0.55"/>
<rect x="562.35" y="337.9" width="2.16" height="3.3" fill="#f23645"/>
<line x1="566.22" y1="336.2" x2="566.22" y2="346.5" stroke="#f23645" stroke-width="0.55"/>
<rect x="565.14" y="341.2" width="2.16" height="4.7" fill="#f23645"/>
<line x1="569.00" y1="335.5" x2="569.00" y2="347.3" stroke="#089981" stroke-width="0.55"/>
<rect x="567.92" y="341.2" width="2.16" height="5.0" fill="#089981"/>
<line x1="571.79" y1="335.1" x2="571.79" y2="341.9" stroke="#089981" stroke-width="0.55"/>
<rect x="570.71" y="335.9" width="2.16" height="5.3" fill="#089981"/>
<line x1="574.58" y1="334.1" x2="574.58" y2="338.3" stroke="#089981" stroke-width="0.55"/>
<rect x="573.50" y="334.8" width="2.16" height="1.4" fill="#089981"/>
<line x1="577.36" y1="324.8" x2="577.36" y2="340.8" stroke="#f23645" stroke-width="0.55"/>
<rect x="576.28" y="335.1" width="2.16" height="4.3" fill="#f23645"/>
<line x1="580.15" y1="332.2" x2="580.15" y2="340.5" stroke="#089981" stroke-width="0.55"/>
<rect x="579.07" y="335.9" width="2.16" height="3.4" fill="#089981"/>
<line x1="582.94" y1="319.4" x2="582.94" y2="339.1" stroke="#f23645" stroke-width="0.55"/>
<rect x="581.86" y="335.5" width="2.16" height="1.0" fill="#f23645"/>
<line x1="585.73" y1="330.5" x2="585.73" y2="337.3" stroke="#089981" stroke-width="0.55"/>
<rect x="584.64" y="331.2" width="2.16" height="5.3" fill="#089981"/>
<line x1="588.51" y1="318.4" x2="588.51" y2="333.4" stroke="#089981" stroke-width="0.55"/>
<rect x="587.43" y="319.8" width="2.16" height="11.8" fill="#089981"/>
<line x1="591.30" y1="317.4" x2="591.30" y2="326.2" stroke="#089981" stroke-width="0.55"/>
<rect x="590.22" y="317.9" width="2.16" height="2.3" fill="#089981"/>
<line x1="594.09" y1="313.4" x2="594.09" y2="318.8" stroke="#089981" stroke-width="0.55"/>
<rect x="593.01" y="316.0" width="2.16" height="2.4" fill="#089981"/>
<line x1="596.87" y1="304.8" x2="596.87" y2="317.0" stroke="#089981" stroke-width="0.55"/>
<rect x="595.79" y="308.4" width="2.16" height="8.3" fill="#089981"/>
<line x1="599.66" y1="297.0" x2="599.66" y2="312.0" stroke="#089981" stroke-width="0.55"/>
<rect x="598.58" y="302.0" width="2.16" height="6.4" fill="#089981"/>
<line x1="602.45" y1="301.3" x2="602.45" y2="315.5" stroke="#f23645" stroke-width="0.55"/>
<rect x="601.37" y="302.0" width="2.16" height="10.0" fill="#f23645"/>
<line x1="605.23" y1="304.1" x2="605.23" y2="318.8" stroke="#089981" stroke-width="0.55"/>
<rect x="604.15" y="308.0" width="2.16" height="4.0" fill="#089981"/>
<line x1="608.02" y1="302.0" x2="608.02" y2="314.1" stroke="#f23645" stroke-width="0.55"/>
<rect x="606.94" y="308.0" width="2.16" height="4.7" fill="#f23645"/>
<line x1="610.81" y1="309.8" x2="610.81" y2="314.1" stroke="#f23645" stroke-width="0.55"/>
<rect x="609.73" y="312.0" width="2.16" height="1.1" fill="#f23645"/>
<line x1="613.60" y1="300.5" x2="613.60" y2="313.1" stroke="#089981" stroke-width="0.55"/>
<rect x="612.51" y="304.8" width="2.16" height="7.8" fill="#089981"/>
<line x1="616.38" y1="294.8" x2="616.38" y2="307.7" stroke="#f23645" stroke-width="0.55"/>
<rect x="615.30" y="304.8" width="2.16" height="1.4" fill="#f23645"/>
<line x1="619.17" y1="286.0" x2="619.17" y2="308.4" stroke="#089981" stroke-width="0.55"/>
<rect x="618.09" y="292.7" width="2.16" height="12.8" fill="#089981"/>
<line x1="621.96" y1="286.3" x2="621.96" y2="296.3" stroke="#089981" stroke-width="0.55"/>
<rect x="620.88" y="290.3" width="2.16" height="2.9" fill="#089981"/>
<line x1="624.74" y1="289.8" x2="624.74" y2="302.0" stroke="#f23645" stroke-width="0.55"/>
<rect x="623.66" y="290.3" width="2.16" height="8.6" fill="#f23645"/>
<line x1="627.53" y1="293.1" x2="627.53" y2="303.4" stroke="#089981" stroke-width="0.55"/>
<rect x="626.45" y="293.7" width="2.16" height="5.1" fill="#089981"/>
<line x1="630.32" y1="293.4" x2="630.32" y2="297.0" stroke="#f23645" stroke-width="0.55"/>
<rect x="629.24" y="294.1" width="2.16" height="2.1" fill="#f23645"/>
<line x1="633.10" y1="295.6" x2="633.10" y2="309.1" stroke="#f23645" stroke-width="0.55"/>
<rect x="632.02" y="296.0" width="2.16" height="12.8" fill="#f23645"/>
<line x1="635.89" y1="308.4" x2="635.89" y2="324.8" stroke="#f23645" stroke-width="0.55"/>
<rect x="634.81" y="308.8" width="2.16" height="8.8" fill="#f23645"/>
<line x1="638.68" y1="315.5" x2="638.68" y2="335.9" stroke="#f23645" stroke-width="0.55"/>
<rect x="637.60" y="317.7" width="2.16" height="16.8" fill="#f23645"/>
<line x1="641.47" y1="320.5" x2="641.47" y2="334.8" stroke="#089981" stroke-width="0.55"/>
<rect x="640.38" y="326.2" width="2.16" height="8.3" fill="#089981"/>
<line x1="644.25" y1="323.4" x2="644.25" y2="332.6" stroke="#f23645" stroke-width="0.55"/>
<rect x="643.17" y="326.2" width="2.16" height="2.1" fill="#f23645"/>
<line x1="647.04" y1="324.5" x2="647.04" y2="334.8" stroke="#f23645" stroke-width="0.55"/>
<rect x="645.96" y="328.4" width="2.16" height="2.1" fill="#f23645"/>
<line x1="649.83" y1="329.8" x2="649.83" y2="331.9" stroke="#f23645" stroke-width="0.55"/>
<rect x="648.75" y="330.2" width="2.16" height="1.0" fill="#f23645"/>
<line x1="652.61" y1="330.5" x2="652.61" y2="351.9" stroke="#f23645" stroke-width="0.55"/>
<rect x="651.53" y="331.2" width="2.16" height="17.5" fill="#f23645"/>
<line x1="655.40" y1="340.2" x2="655.40" y2="349.0" stroke="#089981" stroke-width="0.55"/>
<rect x="654.32" y="342.6" width="2.16" height="6.1" fill="#089981"/>
<circle cx="655.4" cy="390.05" r="5.2" fill="#fff" stroke="#ab47bc" stroke-width="1"/>
<path d="M657.2 387.4 L652.9 390.5 L655.2 390.7 L653.3 392.8 L657.9 389.5 L655.5 389.3 Z" fill="#a23ab5"/>
<line x1="6" y1="397.3" x2="1018" y2="397.3" stroke="#bdbdbd" stroke-width="1.1"/>
<rect x="4.93" y="423.05" width="2.2" height="3.85" fill="#92d2cc"/>
<rect x="7.72" y="422.38" width="2.2" height="4.52" fill="#92d2cc"/>
<rect x="10.50" y="418.53" width="2.2" height="8.37" fill="#92d2cc"/>
<rect x="13.29" y="416.86" width="2.2" height="10.04" fill="#92d2cc"/>
<rect x="16.08" y="415.69" width="2.2" height="11.21" fill="#f7a9a7"/>
<rect x="18.86" y="419.37" width="2.2" height="7.53" fill="#f7a9a7"/>
<rect x="21.65" y="411.84" width="2.2" height="15.06" fill="#f7a9a7"/>
<rect x="24.44" y="421.88" width="2.2" height="5.02" fill="#f7a9a7"/>
<rect x="27.23" y="419.04" width="2.2" height="7.86" fill="#92d2cc"/>
<rect x="30.01" y="416.86" width="2.2" height="10.04" fill="#f7a9a7"/>
<rect x="32.80" y="417.36" width="2.2" height="9.54" fill="#f7a9a7"/>
<rect x="35.59" y="419.04" width="2.2" height="7.86" fill="#f7a9a7"/>
<rect x="38.37" y="420.21" width="2.2" height="6.69" fill="#92d2cc"/>
<rect x="41.16" y="417.36" width="2.2" height="9.54" fill="#f7a9a7"/>
<rect x="43.95" y="419.04" width="2.2" height="7.86" fill="#f7a9a7"/>
<rect x="46.73" y="414.68" width="2.2" height="12.22" fill="#f7a9a7"/>
<rect x="49.52" y="414.02" width="2.2" height="12.88" fill="#92d2cc"/>
<rect x="52.31" y="419.37" width="2.2" height="7.53" fill="#92d2cc"/>
<rect x="55.10" y="420.21" width="2.2" height="6.69" fill="#f7a9a7"/>
<rect x="57.88" y="419.70" width="2.2" height="7.20" fill="#f7a9a7"/>
<rect x="60.67" y="419.70" width="2.2" height="7.20" fill="#92d2cc"/>
<rect x="63.46" y="419.37" width="2.2" height="7.53" fill="#92d2cc"/>
<rect x="66.24" y="420.71" width="2.2" height="6.19" fill="#92d2cc"/>
<rect x="69.03" y="416.02" width="2.2" height="10.88" fill="#92d2cc"/>
<rect x="71.82" y="419.04" width="2.2" height="7.86" fill="#f7a9a7"/>
<rect x="74.60" y="419.37" width="2.2" height="7.53" fill="#92d2cc"/>
<rect x="77.39" y="419.70" width="2.2" height="7.20" fill="#92d2cc"/>
<rect x="80.18" y="420.21" width="2.2" height="6.69" fill="#f7a9a7"/>
<rect x="82.96" y="423.05" width="2.2" height="3.85" fill="#f7a9a7"/>
<rect x="85.75" y="419.70" width="2.2" height="7.20" fill="#92d2cc"/>
<rect x="88.54" y="420.71" width="2.2" height="6.19" fill="#92d2cc"/>
<rect x="91.33" y="419.37" width="2.2" height="7.53" fill="#92d2cc"/>
<rect x="94.11" y="419.04" width="2.2" height="7.86" fill="#92d2cc"/>
<rect x="96.90" y="417.70" width="2.2" height="9.20" fill="#92d2cc"/>
<rect x="99.69" y="414.68" width="2.2" height="12.22" fill="#f7a9a7"/>
<rect x="102.47" y="420.71" width="2.2" height="6.19" fill="#f7a9a7"/>
<rect x="105.26" y="421.38" width="2.2" height="5.52" fill="#92d2cc"/>
<rect x="108.05" y="415.52" width="2.2" height="11.38" fill="#92d2cc"/>
<rect x="110.83" y="416.36" width="2.2" height="10.54" fill="#92d2cc"/>
<rect x="113.62" y="413.18" width="2.2" height="13.72" fill="#92d2cc"/>
<rect x="116.41" y="414.35" width="2.2" height="12.55" fill="#92d2cc"/>
<rect x="119.20" y="412.34" width="2.2" height="14.56" fill="#92d2cc"/>
<rect x="121.98" y="421.04" width="2.2" height="5.86" fill="#f7a9a7"/>
<rect x="124.77" y="416.36" width="2.2" height="10.54" fill="#92d2cc"/>
<rect x="127.56" y="409.00" width="2.2" height="17.90" fill="#92d2cc"/>
<rect x="130.34" y="402.97" width="2.2" height="23.93" fill="#92d2cc"/>
<rect x="133.13" y="411.34" width="2.2" height="15.56" fill="#f7a9a7"/>
<rect x="135.92" y="412.34" width="2.2" height="14.56" fill="#f7a9a7"/>
<rect x="138.70" y="414.35" width="2.2" height="12.55" fill="#92d2cc"/>
<rect x="141.49" y="421.38" width="2.2" height="5.52" fill="#f7a9a7"/>
<rect x="144.28" y="420.21" width="2.2" height="6.69" fill="#92d2cc"/>
<rect x="147.07" y="415.19" width="2.2" height="11.71" fill="#f7a9a7"/>
<rect x="149.85" y="419.37" width="2.2" height="7.53" fill="#f7a9a7"/>
<rect x="152.64" y="418.03" width="2.2" height="8.87" fill="#f7a9a7"/>
<rect x="155.43" y="419.37" width="2.2" height="7.53" fill="#f7a9a7"/>
<rect x="158.21" y="414.68" width="2.2" height="12.22" fill="#f7a9a7"/>
<rect x="161.00" y="420.71" width="2.2" height="6.19" fill="#f7a9a7"/>
<rect x="163.79" y="421.04" width="2.2" height="5.86" fill="#92d2cc"/>
<rect x="166.58" y="419.37" width="2.2" height="7.53" fill="#92d2cc"/>
<rect x="169.36" y="419.70" width="2.2" height="7.20" fill="#f7a9a7"/>
<rect x="172.15" y="421.88" width="2.2" height="5.02" fill="#92d2cc"/>
<rect x="174.94" y="418.53" width="2.2" height="8.37" fill="#92d2cc"/>
<rect x="177.72" y="416.86" width="2.2" height="10.04" fill="#92d2cc"/>
<rect x="180.51" y="416.86" width="2.2" height="10.04" fill="#92d2cc"/>
<rect x="183.30" y="415.69" width="2.2" height="11.21" fill="#92d2cc"/>
<rect x="186.08" y="415.69" width="2.2" height="11.21" fill="#f7a9a7"/>
<rect x="188.87" y="413.01" width="2.2" height="13.89" fill="#92d2cc"/>
<rect x="191.66" y="407.32" width="2.2" height="19.58" fill="#92d2cc"/>
<rect x="194.45" y="402.30" width="2.2" height="24.60" fill="#f7a9a7"/>
<rect x="197.23" y="415.19" width="2.2" height="11.71" fill="#f7a9a7"/>
<rect x="200.02" y="420.71" width="2.2" height="6.19" fill="#92d2cc"/>
<rect x="202.81" y="420.21" width="2.2" height="6.69" fill="#92d2cc"/>
<rect x="205.59" y="417.70" width="2.2" height="9.20" fill="#f7a9a7"/>
<rect x="208.38" y="418.03" width="2.2" height="8.87" fill="#f7a9a7"/>
<rect x="211.17" y="417.36" width="2.2" height="9.54" fill="#92d2cc"/>
<rect x="213.95" y="418.53" width="2.2" height="8.37" fill="#f7a9a7"/>
<rect x="216.74" y="408.49" width="2.2" height="18.41" fill="#92d2cc"/>
<rect x="219.53" y="414.02" width="2.2" height="12.88" fill="#92d2cc"/>
<rect x="222.31" y="407.66" width="2.2" height="19.24" fill="#92d2cc"/>
<rect x="225.10" y="405.15" width="2.2" height="21.75" fill="#f7a9a7"/>
<rect x="227.89" y="413.51" width="2.2" height="13.39" fill="#92d2cc"/>
<rect x="230.68" y="405.15" width="2.2" height="21.75" fill="#92d2cc"/>
<rect x="233.46" y="406.82" width="2.2" height="20.08" fill="#92d2cc"/>
<rect x="236.25" y="403.47" width="2.2" height="23.43" fill="#f7a9a7"/>
<rect x="239.04" y="416.36" width="2.2" height="10.54" fill="#f7a9a7"/>
<rect x="241.82" y="418.03" width="2.2" height="8.87" fill="#f7a9a7"/>
<rect x="244.61" y="414.35" width="2.2" height="12.55" fill="#f7a9a7"/>
<rect x="247.40" y="413.51" width="2.2" height="13.39" fill="#92d2cc"/>
<rect x="250.18" y="416.02" width="2.2" height="10.88" fill="#92d2cc"/>
<rect x="252.97" y="419.37" width="2.2" height="7.53" fill="#f7a9a7"/>
<rect x="255.76" y="415.19" width="2.2" height="11.71" fill="#92d2cc"/>
<rect x="258.55" y="422.38" width="2.2" height="4.52" fill="#f7a9a7"/>
<rect x="261.33" y="420.71" width="2.2" height="6.19" fill="#92d2cc"/>
<rect x="264.12" y="411.34" width="2.2" height="15.56" fill="#92d2cc"/>
<rect x="266.91" y="413.51" width="2.2" height="13.39" fill="#92d2cc"/>
<rect x="269.69" y="414.02" width="2.2" height="12.88" fill="#92d2cc"/>
<rect x="272.48" y="414.68" width="2.2" height="12.22" fill="#92d2cc"/>
<rect x="275.27" y="410.67" width="2.2" height="16.23" fill="#92d2cc"/>
<rect x="278.05" y="417.70" width="2.2" height="9.20" fill="#92d2cc"/>
<rect x="280.84" y="415.19" width="2.2" height="11.71" fill="#f7a9a7"/>
<rect x="283.63" y="414.02" width="2.2" height="12.88" fill="#f7a9a7"/>
<rect x="286.42" y="417.70" width="2.2" height="9.20" fill="#92d2cc"/>
<rect x="289.20" y="413.51" width="2.2" height="13.39" fill="#92d2cc"/>
<rect x="291.99" y="416.02" width="2.2" height="10.88" fill="#92d2cc"/>
<rect x="294.78" y="417.36" width="2.2" height="9.54" fill="#f7a9a7"/>
<rect x="297.56" y="422.38" width="2.2" height="4.52" fill="#92d2cc"/>
<rect x="300.35" y="423.05" width="2.2" height="3.85" fill="#f7a9a7"/>
<rect x="303.14" y="410.67" width="2.2" height="16.23" fill="#f7a9a7"/>
<rect x="305.92" y="417.36" width="2.2" height="9.54" fill="#f7a9a7"/>
<rect x="308.71" y="414.68" width="2.2" height="12.22" fill="#f7a9a7"/>
<rect x="311.50" y="408.49" width="2.2" height="18.41" fill="#f7a9a7"/>
<rect x="314.29" y="411.34" width="2.2" height="15.56" fill="#92d2cc"/>
<rect x="317.07" y="420.71" width="2.2" height="6.19" fill="#f7a9a7"/>
<rect x="319.86" y="420.71" width="2.2" height="6.19" fill="#92d2cc"/>
<rect x="322.65" y="417.70" width="2.2" height="9.20" fill="#92d2cc"/>
<rect x="325.43" y="417.70" width="2.2" height="9.20" fill="#f7a9a7"/>
<rect x="328.22" y="416.02" width="2.2" height="10.88" fill="#92d2cc"/>
<rect x="331.01" y="414.02" width="2.2" height="12.88" fill="#92d2cc"/>
<rect x="333.79" y="415.19" width="2.2" height="11.71" fill="#f7a9a7"/>
<rect x="336.58" y="421.38" width="2.2" height="5.52" fill="#f7a9a7"/>
<rect x="339.37" y="418.20" width="2.2" height="8.70" fill="#92d2cc"/>
<rect x="342.16" y="418.53" width="2.2" height="8.37" fill="#92d2cc"/>
<rect x="344.94" y="414.68" width="2.2" height="12.22" fill="#f7a9a7"/>
<rect x="347.73" y="418.03" width="2.2" height="8.87" fill="#92d2cc"/>
<rect x="350.52" y="417.70" width="2.2" height="9.20" fill="#f7a9a7"/>
<rect x="353.30" y="400.63" width="2.2" height="26.27" fill="#f7a9a7"/>
<rect x="356.09" y="406.82" width="2.2" height="20.08" fill="#f7a9a7"/>
<rect x="358.88" y="409.00" width="2.2" height="17.90" fill="#92d2cc"/>
<rect x="361.66" y="409.66" width="2.2" height="17.24" fill="#92d2cc"/>
<rect x="364.45" y="406.82" width="2.2" height="20.08" fill="#f7a9a7"/>
<rect x="367.24" y="411.84" width="2.2" height="15.06" fill="#f7a9a7"/>
<rect x="370.03" y="411.84" width="2.2" height="15.06" fill="#f7a9a7"/>
<rect x="372.81" y="410.17" width="2.2" height="16.73" fill="#f7a9a7"/>
<rect x="375.60" y="421.04" width="2.2" height="5.86" fill="#92d2cc"/>
<rect x="378.39" y="420.21" width="2.2" height="6.69" fill="#92d2cc"/>
<rect x="381.17" y="418.03" width="2.2" height="8.87" fill="#92d2cc"/>
<rect x="383.96" y="414.02" width="2.2" height="12.88" fill="#f7a9a7"/>
<rect x="386.75" y="415.69" width="2.2" height="11.21" fill="#f7a9a7"/>
<rect x="389.53" y="416.86" width="2.2" height="10.04" fill="#92d2cc"/>
<rect x="392.32" y="417.36" width="2.2" height="9.54" fill="#92d2cc"/>
<rect x="395.11" y="422.38" width="2.2" height="4.52" fill="#92d2cc"/>
<rect x="397.90" y="419.37" width="2.2" height="7.53" fill="#92d2cc"/>
<rect x="400.68" y="416.86" width="2.2" height="10.04" fill="#f7a9a7"/>
<rect x="403.47" y="414.68" width="2.2" height="12.22" fill="#f7a9a7"/>
<rect x="406.26" y="413.51" width="2.2" height="13.39" fill="#f7a9a7"/>
<rect x="409.04" y="412.68" width="2.2" height="14.22" fill="#f7a9a7"/>
<rect x="411.83" y="417.70" width="2.2" height="9.20" fill="#92d2cc"/>
<rect x="414.62" y="422.38" width="2.2" height="4.52" fill="#f7a9a7"/>
<rect x="417.40" y="421.38" width="2.2" height="5.52" fill="#92d2cc"/>
<rect x="420.19" y="406.82" width="2.2" height="20.08" fill="#f7a9a7"/>
<rect x="422.98" y="404.31" width="2.2" height="22.59" fill="#f7a9a7"/>
<rect x="425.77" y="414.35" width="2.2" height="12.55" fill="#92d2cc"/>
<rect x="428.55" y="416.86" width="2.2" height="10.04" fill="#f7a9a7"/>
<rect x="431.34" y="415.69" width="2.2" height="11.21" fill="#92d2cc"/>
<rect x="434.13" y="420.21" width="2.2" height="6.69" fill="#f7a9a7"/>
<rect x="436.91" y="418.03" width="2.2" height="8.87" fill="#92d2cc"/>
<rect x="439.70" y="416.36" width="2.2" height="10.54" fill="#92d2cc"/>
<rect x="442.49" y="414.02" width="2.2" height="12.88" fill="#f7a9a7"/>
<rect x="445.27" y="415.19" width="2.2" height="11.71" fill="#f7a9a7"/>
<rect x="448.06" y="411.84" width="2.2" height="15.06" fill="#f7a9a7"/>
<rect x="450.85" y="409.66" width="2.2" height="17.24" fill="#f7a9a7"/>
<rect x="453.64" y="420.21" width="2.2" height="6.69" fill="#92d2cc"/>
<rect x="456.42" y="417.36" width="2.2" height="9.54" fill="#f7a9a7"/>
<rect x="459.21" y="411.34" width="2.2" height="15.56" fill="#f7a9a7"/>
<rect x="462.00" y="411.34" width="2.2" height="15.56" fill="#92d2cc"/>
<rect x="464.78" y="415.19" width="2.2" height="11.71" fill="#f7a9a7"/>
<rect x="467.57" y="407.66" width="2.2" height="19.24" fill="#f7a9a7"/>
<rect x="470.36" y="404.31" width="2.2" height="22.59" fill="#f7a9a7"/>
<rect x="473.14" y="419.37" width="2.2" height="7.53" fill="#f7a9a7"/>
<rect x="475.93" y="419.04" width="2.2" height="7.86" fill="#92d2cc"/>
<rect x="478.72" y="414.02" width="2.2" height="12.88" fill="#92d2cc"/>
<rect x="481.51" y="419.04" width="2.2" height="7.86" fill="#92d2cc"/>
<rect x="484.29" y="416.02" width="2.2" height="10.88" fill="#92d2cc"/>
<rect x="487.08" y="420.21" width="2.2" height="6.69" fill="#f7a9a7"/>
<rect x="489.87" y="416.86" width="2.2" height="10.04" fill="#f7a9a7"/>
<rect x="492.65" y="421.38" width="2.2" height="5.52" fill="#f7a9a7"/>
<rect x="495.44" y="419.37" width="2.2" height="7.53" fill="#f7a9a7"/>
<rect x="498.23" y="413.51" width="2.2" height="13.39" fill="#f7a9a7"/>
<rect x="501.01" y="413.51" width="2.2" height="13.39" fill="#92d2cc"/>
<rect x="503.80" y="415.19" width="2.2" height="11.71" fill="#92d2cc"/>
<rect x="506.59" y="419.04" width="2.2" height="7.86" fill="#f7a9a7"/>
<rect x="509.38" y="417.36" width="2.2" height="9.54" fill="#f7a9a7"/>
<rect x="512.16" y="422.72" width="2.2" height="4.18" fill="#f7a9a7"/>
<rect x="514.95" y="418.53" width="2.2" height="8.37" fill="#92d2cc"/>
<rect x="517.74" y="418.03" width="2.2" height="8.87" fill="#92d2cc"/>
<rect x="520.52" y="414.68" width="2.2" height="12.22" fill="#92d2cc"/>
<rect x="523.31" y="414.35" width="2.2" height="12.55" fill="#f7a9a7"/>
<rect x="526.10" y="414.68" width="2.2" height="12.22" fill="#92d2cc"/>
<rect x="528.88" y="415.69" width="2.2" height="11.21" fill="#f7a9a7"/>
<rect x="531.67" y="422.38" width="2.2" height="4.52" fill="#92d2cc"/>
<rect x="534.46" y="421.88" width="2.2" height="5.02" fill="#f7a9a7"/>
<rect x="537.25" y="416.02" width="2.2" height="10.88" fill="#f7a9a7"/>
<rect x="540.03" y="418.53" width="2.2" height="8.37" fill="#92d2cc"/>
<rect x="542.82" y="414.35" width="2.2" height="12.55" fill="#f7a9a7"/>
<rect x="545.61" y="413.51" width="2.2" height="13.39" fill="#f7a9a7"/>
<rect x="548.39" y="415.69" width="2.2" height="11.21" fill="#92d2cc"/>
<rect x="551.18" y="423.05" width="2.2" height="3.85" fill="#f7a9a7"/>
<rect x="553.97" y="421.38" width="2.2" height="5.52" fill="#92d2cc"/>
<rect x="556.75" y="419.37" width="2.2" height="7.53" fill="#f7a9a7"/>
<rect x="559.54" y="419.70" width="2.2" height="7.20" fill="#f7a9a7"/>
<rect x="562.33" y="421.88" width="2.2" height="5.02" fill="#f7a9a7"/>
<rect x="565.12" y="421.38" width="2.2" height="5.52" fill="#f7a9a7"/>
<rect x="567.90" y="417.36" width="2.2" height="9.54" fill="#92d2cc"/>
<rect x="570.69" y="422.72" width="2.2" height="4.18" fill="#92d2cc"/>
<rect x="573.48" y="421.38" width="2.2" height="5.52" fill="#92d2cc"/>
<rect x="576.26" y="414.68" width="2.2" height="12.22" fill="#f7a9a7"/>
<rect x="579.05" y="419.70" width="2.2" height="7.20" fill="#92d2cc"/>
<rect x="581.84" y="419.04" width="2.2" height="7.86" fill="#f7a9a7"/>
<rect x="584.62" y="421.88" width="2.2" height="5.02" fill="#92d2cc"/>
<rect x="587.41" y="418.53" width="2.2" height="8.37" fill="#92d2cc"/>
<rect x="590.20" y="422.38" width="2.2" height="4.52" fill="#92d2cc"/>
<rect x="592.99" y="421.38" width="2.2" height="5.52" fill="#92d2cc"/>
<rect x="595.77" y="417.36" width="2.2" height="9.54" fill="#92d2cc"/>
<rect x="598.56" y="416.36" width="2.2" height="10.54" fill="#92d2cc"/>
<rect x="601.35" y="419.70" width="2.2" height="7.20" fill="#f7a9a7"/>
<rect x="604.13" y="418.53" width="2.2" height="8.37" fill="#92d2cc"/>
<rect x="606.92" y="416.36" width="2.2" height="10.54" fill="#f7a9a7"/>
<rect x="609.71" y="423.55" width="2.2" height="3.35" fill="#f7a9a7"/>
<rect x="612.50" y="420.71" width="2.2" height="6.19" fill="#92d2cc"/>
<rect x="615.28" y="415.19" width="2.2" height="11.71" fill="#f7a9a7"/>
<rect x="618.07" y="415.19" width="2.2" height="11.71" fill="#92d2cc"/>
<rect x="620.86" y="416.02" width="2.2" height="10.88" fill="#92d2cc"/>
<rect x="623.64" y="419.70" width="2.2" height="7.20" fill="#f7a9a7"/>
<rect x="626.43" y="421.38" width="2.2" height="5.52" fill="#92d2cc"/>
<rect x="629.22" y="424.06" width="2.2" height="2.84" fill="#f7a9a7"/>
<rect x="632.00" y="421.38" width="2.2" height="5.52" fill="#f7a9a7"/>
<rect x="634.79" y="418.53" width="2.2" height="8.37" fill="#f7a9a7"/>
<rect x="637.58" y="416.53" width="2.2" height="10.37" fill="#f7a9a7"/>
<rect x="640.37" y="417.70" width="2.2" height="9.20" fill="#92d2cc"/>
<rect x="643.15" y="421.04" width="2.2" height="5.86" fill="#f7a9a7"/>
<rect x="645.94" y="421.04" width="2.2" height="5.86" fill="#f7a9a7"/>
<rect x="648.73" y="424.39" width="2.2" height="2.51" fill="#f7a9a7"/>
<rect x="651.51" y="414.35" width="2.2" height="12.55" fill="#f7a9a7"/>
<rect x="654.30" y="425.39" width="2.2" height="1.51" fill="#92d2cc"/>
<polyline fill="none" stroke="#2962ff" stroke-opacity="0.5" stroke-width="1.1" points="6.0,418.3 16.7,418.6 33.5,418.4 50.2,417.9 66.9,417.4 83.7,419.1 100.4,419.1 108.8,418.8 117.1,417.9 127.2,417.1 133.9,415.8 142.2,415.3 150.6,415.3 160.6,415.4 165.0,415.4 173.4,416.1 181.7,416.6 190.1,417.1 198.5,415.8 206.8,415.8 215.2,416.1 223.6,414.4 231.9,412.7 237.5,411.6 245.3,411.6 253.7,412.7 265.4,412.4 275.4,412.1 285.5,413.7 295.5,414.9 303.9,415.8 312.3,415.4 320.6,414.9 330.0,415.4 330.7,415.4 340.0,416.1 351.8,416.1 356.8,414.4 368.5,413.7 380.2,413.7 396.9,413.7 408.6,413.2 415.3,414.9 420.4,416.1 430.4,415.4 447.1,414.9 457.2,414.4 467.2,414.1 472.2,412.7 480.6,414.1 495.0,414.4 495.7,414.7 511.7,415.4 528.5,416.6 545.2,416.1 561.9,417.4 578.7,418.3 595.4,419.1 612.1,419.4 628.9,418.6 645.6,419.1 655.5,419.4"/>
<line x1="6" y1="427.0" x2="1018" y2="427.0" stroke="#bdbdbd" stroke-width="1.1"/>
<rect x="6" y="442.3" width="978.6" height="31.3" fill="#f2eef9"/>
<line x1="6" y1="442.4" x2="984.6" y2="442.4" stroke="#9b99a4" stroke-width="1" stroke-dasharray="2.283 2.283" stroke-dashoffset="2.0"/>
<line x1="6" y1="473.4" x2="984.6" y2="473.4" stroke="#9b99a4" stroke-width="1" stroke-dasharray="2.283 2.283" stroke-dashoffset="2.0"/>
<line x1="6" y1="458.3" x2="984.6" y2="458.3" stroke="#d8d6e2" stroke-width="1" stroke-dasharray="2.283 2.283" stroke-dashoffset="2.0"/>
<clipPath id="ob"><rect x="0" y="427" width="1024" height="15.5"/></clipPath>
<polygon clip-path="url(#ob)" fill="#d9eeda" points="114.7,442.9 117.5,442.5 120.3,442.2 123.1,442.2 125.9,439.5 128.7,434.2 131.4,432.2 134.2,445.0 137.0,450.6 137.0,442.5 114.7,442.5"/>
<polyline fill="none" stroke="#7e57c2" stroke-opacity="0.72" stroke-width="1.2" stroke-linejoin="round" points="6.0,465.6 8.8,461.8 11.6,456.2 14.4,453.7 17.2,456.8 20.0,461.8 22.8,464.6 25.5,466.5 28.3,460.6 31.1,461.8 33.9,463.4 36.7,464.3 39.5,464.3 42.3,467.6 45.0,469.6 47.8,471.8 50.6,461.8 53.4,460.6 56.2,462.6 59.0,464.3 61.8,460.6 64.6,455.9 67.3,454.6 70.1,453.9 72.9,458.9 75.7,455.6 78.5,456.2 81.3,459.3 84.1,459.3 86.9,456.2 89.6,458.4 92.4,456.2 95.2,452.2 98.0,448.4 100.8,449.6 103.6,451.7 106.4,451.2 109.1,450.6 111.9,445.9 114.7,442.9 117.5,442.5 120.3,442.2 123.1,442.2 125.9,439.5 128.7,434.2 131.4,432.2 134.2,445.0 137.0,450.6 139.8,448.4 142.6,449.7 145.4,448.4 148.2,451.7 151.0,452.9 153.7,455.9 156.5,458.4 159.3,462.9 162.1,465.6 164.9,463.4 167.7,458.9 170.5,461.8 173.2,459.3 176.0,455.6 178.8,454.2 181.6,452.6 184.4,451.4 187.2,456.2 190.0,449.2 192.8,445.5 195.5,450.1 198.3,453.7 201.1,452.2 203.9,452.1 206.7,455.6 209.5,459.3 212.3,454.2 215.1,457.3 217.8,450.1 220.6,448.7 223.4,448.4 226.2,456.8 229.0,453.4 231.8,450.9 234.6,448.4 237.3,452.1 240.1,452.9 242.9,454.2 245.7,455.6 248.5,450.9 251.3,450.6 254.1,454.2 256.9,454.6 259.6,455.6 262.4,452.9 265.2,450.1 268.0,447.9 270.8,445.9 273.6,443.4 276.4,441.4 279.2,441.7 281.9,443.9 284.7,446.7 287.5,445.9 290.3,443.0 293.1,442.5 295.9,447.5 298.7,447.9 301.5,450.1 304.2,456.8 307.0,460.9 309.8,462.9 312.6,469.0 315.4,463.4 318.2,462.9 321.0,460.6 323.7,459.3 326.5,460.9 329.3,452.6 332.1,450.6 334.9,451.7 337.7,453.4 340.5,452.9 343.3,452.1 346.0,457.6 348.8,454.2 351.6,458.4 354.4,467.6 357.2,470.6 360.0,462.9 362.8,459.6 365.6,460.9 368.3,463.4 371.1,465.6 373.9,466.5 376.7,464.3 379.5,463.4 382.3,462.9 385.1,464.3 387.8,466.3 390.6,461.8 393.4,460.4 396.2,460.1 399.0,457.6 401.8,457.6 404.6,459.8 407.4,460.6 410.1,463.9 412.9,462.3 415.7,462.6 418.5,462.3 421.3,469.3 424.1,473.5 426.9,469.3 429.7,471.3 432.4,468.0 435.2,469.0 438.0,466.0 440.8,464.3 443.6,467.6 446.4,469.3 449.2,471.3 451.9,473.0 454.7,472.6 457.5,474.0 460.3,475.2 463.1,469.0 465.9,470.1 468.7,471.3 471.5,472.6 474.2,473.0 477.0,470.1 479.8,465.1 482.6,464.6 485.4,462.3 488.2,463.4 491.0,465.1 493.8,466.0 496.5,467.6 499.3,470.5 502.1,461.8 504.9,458.1 507.7,460.9 510.5,463.8 513.3,464.3 516.0,464.3 518.8,462.6 521.6,460.4 524.4,460.9 527.2,461.4 530.0,463.4 532.8,462.9 535.6,465.1 538.3,466.5 541.1,465.5 543.9,469.0 546.7,470.6 549.5,464.3 552.3,464.3 555.1,464.3 557.9,464.8 560.6,466.3 563.4,467.6 566.2,468.8 569.0,466.0 571.8,463.1 574.6,462.3 577.4,464.3 580.2,462.3 582.9,461.8 585.7,458.9 588.5,453.4 591.3,452.1 594.1,450.9 596.9,447.9 599.7,445.0 602.4,451.2 605.2,450.1 608.0,452.2 610.8,453.4 613.6,450.1 616.4,450.1 619.2,444.7 622.0,443.9 624.7,449.6 627.5,447.9 630.3,448.9 633.1,455.1 635.9,461.3 638.7,466.8 641.5,462.9 644.3,463.4 647.0,464.3 649.8,465.1 652.6,470.6 655.4,467.3"/>
<text x="72.9" y="489.8" font-size="6.5" fill="#363636" text-anchor="middle" font-weight="normal" stroke="#363636" stroke-width="0.16">Jul</text>
<text x="159.3" y="489.8" font-size="6.5" fill="#363636" text-anchor="middle" font-weight="normal" stroke="#363636" stroke-width="0.16">Aug</text>
<text x="245.7" y="489.8" font-size="6.5" fill="#363636" text-anchor="middle" font-weight="normal" stroke="#363636" stroke-width="0.16">Sep</text>
<text x="329.3" y="489.8" font-size="6.5" fill="#363636" text-anchor="middle" font-weight="normal" stroke="#363636" stroke-width="0.16">Oct</text>
<text x="415.7" y="489.8" font-size="6.5" fill="#363636" text-anchor="middle" font-weight="normal" stroke="#363636" stroke-width="0.16">Nov</text>
<text x="499.3" y="489.8" font-size="6.5" fill="#363636" text-anchor="middle" font-weight="normal" stroke="#363636" stroke-width="0.16">Dec</text>
<text x="585.7" y="489.8" font-size="6.5" fill="#363636" text-anchor="middle" font-weight="bold" stroke="#363636" stroke-width="0.16">2026</text>
<text x="672.1" y="489.8" font-size="6.5" fill="#363636" text-anchor="middle" font-weight="normal" stroke="#363636" stroke-width="0.16">Feb</text>
<text x="750.2" y="489.8" font-size="6.5" fill="#363636" text-anchor="middle" font-weight="normal" stroke="#363636" stroke-width="0.16">Mar</text>
<text x="836.6" y="489.8" font-size="6.5" fill="#363636" text-anchor="middle" font-weight="normal" stroke="#363636" stroke-width="0.16">Apr</text>
<text x="920.2" y="489.8" font-size="6.5" fill="#363636" text-anchor="middle" font-weight="normal" stroke="#363636" stroke-width="0.16">May</text>
<text x="989.2" y="390.2" font-size="6.7" fill="#363636" text-anchor="start" font-weight="normal" textLength="18.8" lengthAdjust="spacingAndGlyphs" stroke="#363636" stroke-width="0.16">100.00</text>
<text x="989.2" y="369.3" font-size="6.7" fill="#363636" text-anchor="start" font-weight="normal" textLength="18.8" lengthAdjust="spacingAndGlyphs" stroke="#363636" stroke-width="0.16">110.00</text>
<text x="989.2" y="348.3" font-size="6.7" fill="#363636" text-anchor="start" font-weight="normal" textLength="18.8" lengthAdjust="spacingAndGlyphs" stroke="#363636" stroke-width="0.16">120.00</text>
<text x="989.2" y="327.4" font-size="6.7" fill="#363636" text-anchor="start" font-weight="normal" textLength="18.8" lengthAdjust="spacingAndGlyphs" stroke="#363636" stroke-width="0.16">130.00</text>
<text x="989.2" y="306.4" font-size="6.7" fill="#363636" text-anchor="start" font-weight="normal" textLength="18.8" lengthAdjust="spacingAndGlyphs" stroke="#363636" stroke-width="0.16">140.00</text>
<text x="989.2" y="285.5" font-size="6.7" fill="#363636" text-anchor="start" font-weight="normal" textLength="18.8" lengthAdjust="spacingAndGlyphs" stroke="#363636" stroke-width="0.16">150.00</text>
<text x="989.2" y="264.5" font-size="6.7" fill="#363636" text-anchor="start" font-weight="normal" textLength="18.8" lengthAdjust="spacingAndGlyphs" stroke="#363636" stroke-width="0.16">160.00</text>
<text x="989.2" y="243.6" font-size="6.7" fill="#363636" text-anchor="start" font-weight="normal" textLength="18.8" lengthAdjust="spacingAndGlyphs" stroke="#363636" stroke-width="0.16">170.00</text>
<text x="989.2" y="222.6" font-size="6.7" fill="#363636" text-anchor="start" font-weight="normal" textLength="18.8" lengthAdjust="spacingAndGlyphs" stroke="#363636" stroke-width="0.16">180.00</text>
<text x="989.2" y="201.7" font-size="6.7" fill="#363636" text-anchor="start" font-weight="normal" textLength="18.8" lengthAdjust="spacingAndGlyphs" stroke="#363636" stroke-width="0.16">190.00</text>
<text x="989.2" y="180.7" font-size="6.7" fill="#363636" text-anchor="start" font-weight="normal" textLength="18.8" lengthAdjust="spacingAndGlyphs" stroke="#363636" stroke-width="0.16">200.00</text>
<text x="989.2" y="159.8" font-size="6.7" fill="#363636" text-anchor="start" font-weight="normal" textLength="18.8" lengthAdjust="spacingAndGlyphs" stroke="#363636" stroke-width="0.16">210.00</text>
<text x="989.2" y="138.8" font-size="6.7" fill="#363636" text-anchor="start" font-weight="normal" textLength="18.8" lengthAdjust="spacingAndGlyphs" stroke="#363636" stroke-width="0.16">220.00</text>
<text x="989.2" y="117.9" font-size="6.7" fill="#363636" text-anchor="start" font-weight="normal" textLength="18.8" lengthAdjust="spacingAndGlyphs" stroke="#363636" stroke-width="0.16">230.00</text>
<text x="989.2" y="96.9" font-size="6.7" fill="#363636" text-anchor="start" font-weight="normal" textLength="18.8" lengthAdjust="spacingAndGlyphs" stroke="#363636" stroke-width="0.16">240.00</text>
<text x="989.2" y="76.0" font-size="6.7" fill="#363636" text-anchor="start" font-weight="normal" textLength="18.8" lengthAdjust="spacingAndGlyphs" stroke="#363636" stroke-width="0.16">250.00</text>
<text x="989.2" y="55.0" font-size="6.7" fill="#363636" text-anchor="start" font-weight="normal" textLength="18.8" lengthAdjust="spacingAndGlyphs" stroke="#363636" stroke-width="0.16">260.00</text>
<text x="989.2" y="34.0" font-size="6.7" fill="#363636" text-anchor="start" font-weight="normal" textLength="18.8" lengthAdjust="spacingAndGlyphs" stroke="#363636" stroke-width="0.16">270.00</text>
<rect x="985" y="15.2" width="33" height="15.6" fill="#fff"/>
<rect x="986" y="16" width="30.2" height="13.4" rx="1.5" fill="#fff" stroke="#ececec" stroke-width="0.8"/>
<text x="991" y="25.1" font-size="6.7" fill="#363636" text-anchor="start" font-weight="normal" textLength="14.5" lengthAdjust="spacingAndGlyphs" stroke="#363636" stroke-width="0.16">USDT</text>
<text x="989.4" y="402" font-size="6.5" fill="#363636" text-anchor="start" font-weight="normal" textLength="10.5" lengthAdjust="spacingAndGlyphs" stroke="#363636" stroke-width="0.16">10M</text>
<text x="989.4" y="437" font-size="6.5" fill="#363636" text-anchor="start" font-weight="normal" textLength="15.5" lengthAdjust="spacingAndGlyphs" stroke="#363636" stroke-width="0.16">80.00</text>
<rect x="985" y="228.7" width="25.5" height="11.100000000000001" fill="#fff"/>
<rect x="985" y="230.1" width="25.5" height="8.3" rx="1" fill="#2a2a2a"/>
<text x="989.4" y="236.6" font-size="6.6" fill="#fff" text-anchor="start" font-weight="normal" textLength="18.7" lengthAdjust="spacingAndGlyphs" stroke="#fff" stroke-width="0.2">173.43</text>
<rect x="985" y="288.70000000000005" width="25.5" height="11.100000000000001" fill="#fff"/>
<rect x="985" y="290.1" width="25.5" height="8.3" rx="1" fill="#2a2a2a"/>
<text x="989.4" y="296.6" font-size="6.6" fill="#fff" text-anchor="start" font-weight="normal" textLength="18.7" lengthAdjust="spacingAndGlyphs" stroke="#fff" stroke-width="0.2">144.80</text>
<rect x="985" y="352.8" width="25.5" height="10.8" fill="#fff"/>
<rect x="985" y="354.2" width="25.5" height="8.0" rx="1" fill="#2a2a2a"/>
<text x="989.4" y="360.6" font-size="6.6" fill="#fff" text-anchor="start" font-weight="normal" textLength="18.7" lengthAdjust="spacingAndGlyphs" stroke="#fff" stroke-width="0.2">121.66</text>
<rect x="985" y="337.9" width="31" height="15.9" rx="1" fill="#089981"/>
<text x="989.4" y="344.6" font-size="6.6" fill="#fff" text-anchor="start" font-weight="normal" textLength="18.7" lengthAdjust="spacingAndGlyphs" stroke="#fff" stroke-width="0.2">121.96</text>
<text x="989.4" y="352.0" font-size="6.5" fill="#d9f2ee" text-anchor="start" font-weight="normal" textLength="23.5" lengthAdjust="spacingAndGlyphs" stroke="#d9f2ee" stroke-width="0.16">21:05:22</text>
<rect x="985" y="409.5" width="24.2" height="8.1" rx="1" fill="#2962ff"/>
<text x="989.4" y="415.9" font-size="6.6" fill="#fff" text-anchor="start" font-weight="normal" textLength="17.2" lengthAdjust="spacingAndGlyphs" stroke="#fff" stroke-width="0.2">2.54M</text>
<rect x="985" y="417.9" width="31" height="8.2" rx="1" fill="#26a69a"/>
<text x="989.4" y="424.4" font-size="6.6" fill="#fff" text-anchor="start" font-weight="normal" textLength="23.5" lengthAdjust="spacingAndGlyphs" stroke="#fff" stroke-width="0.2">393.61K</text>
<rect x="985" y="463.2" width="22.5" height="8.3" rx="1" fill="#7e57c2"/>
<text x="989.4" y="469.7" font-size="6.6" fill="#fff" text-anchor="start" font-weight="normal" textLength="15.3" lengthAdjust="spacingAndGlyphs" stroke="#fff" stroke-width="0.2">37.84</text>
<text x="9.75" y="24.6" font-size="6.5" fill="#363636" text-anchor="start" font-weight="normal" textLength="10.2" lengthAdjust="spacingAndGlyphs" stroke="#363636" stroke-width="0.16">SOL</text>
<text x="23.1" y="24.6" font-size="6.5" fill="#363636" text-anchor="start" font-weight="normal" textLength="2.5" lengthAdjust="spacingAndGlyphs" stroke="#363636" stroke-width="0.16">/</text>
<text x="27.5" y="24.6" font-size="6.5" fill="#363636" text-anchor="start" font-weight="normal" textLength="24.4" lengthAdjust="spacingAndGlyphs" stroke="#363636" stroke-width="0.16">TetherUS</text>
<text x="54.2" y="24.6" font-size="6.5" fill="#363636" text-anchor="start" font-weight="normal" textLength="1.6" lengthAdjust="spacingAndGlyphs" stroke="#363636" stroke-width="0.16">·</text>
<text x="58.75" y="24.6" font-size="6.5" fill="#363636" text-anchor="start" font-weight="normal" textLength="6.2" lengthAdjust="spacingAndGlyphs" stroke="#363636" stroke-width="0.16">1D</text>
<text x="67.9" y="24.6" font-size="6.5" fill="#363636" text-anchor="start" font-weight="normal" textLength="1.6" lengthAdjust="spacingAndGlyphs" stroke="#363636" stroke-width="0.16">·</text>
<text x="71.5" y="24.6" font-size="6.5" fill="#363636" text-anchor="start" font-weight="normal" textLength="21.6" lengthAdjust="spacingAndGlyphs" stroke="#363636" stroke-width="0.16">Binance</text>
<text x="97.3" y="24.6" font-size="6.5" fill="#363636" text-anchor="start" font-weight="normal" stroke="#363636" stroke-width="0.16">O</text>
<text x="102.5" y="24.6" font-size="6.5" fill="#089981" text-anchor="start" font-weight="normal" textLength="17.5" lengthAdjust="spacingAndGlyphs" stroke="#089981" stroke-width="0.16">118.85</text>
<text x="124" y="24.6" font-size="6.5" fill="#363636" text-anchor="start" font-weight="normal" stroke="#363636" stroke-width="0.16">H</text>
<text x="128.5" y="24.6" font-size="6.5" fill="#089981" text-anchor="start" font-weight="normal" textLength="18" lengthAdjust="spacingAndGlyphs" stroke="#089981" stroke-width="0.16">122.77</text>
<text x="150.75" y="24.6" font-size="6.5" fill="#363636" text-anchor="start" font-weight="normal" stroke="#363636" stroke-width="0.16">L</text>
<text x="154.25" y="24.6" font-size="6.5" fill="#089981" text-anchor="start" font-weight="normal" textLength="17.75" lengthAdjust="spacingAndGlyphs" stroke="#089981" stroke-width="0.16">118.53</text>
<text x="176.1" y="24.6" font-size="6.5" fill="#363636" text-anchor="start" font-weight="normal" stroke="#363636" stroke-width="0.16">C</text>
<text x="180.5" y="24.6" font-size="6.5" fill="#089981" text-anchor="start" font-weight="normal" textLength="17.5" lengthAdjust="spacingAndGlyphs" stroke="#089981" stroke-width="0.16">121.96</text>
<text x="202.75" y="24.6" font-size="6.5" fill="#089981" text-anchor="start" font-weight="normal" textLength="40.25" lengthAdjust="spacingAndGlyphs" stroke="#089981" stroke-width="0.16">+3.11 (+2.62%)</text>
<g fill="#1a1a1a"><path d="M6.2 506.1 H13.9 V513.9 H10.2 V509.4 H6.2 Z"/><circle cx="16.3" cy="507.6" r="1.5"/><path d="M18.5 506.1 H22.1 L19 513.9 H15.3 Z"/></g>
<text x="25.7" y="514.2" font-size="11.5" fill="#1a1a1a" text-anchor="start" font-weight="normal" textLength="62.8" lengthAdjust="spacingAndGlyphs" stroke="#1a1a1a" stroke-width="0.42">TradingView</text>
</svg>
</body></html>
